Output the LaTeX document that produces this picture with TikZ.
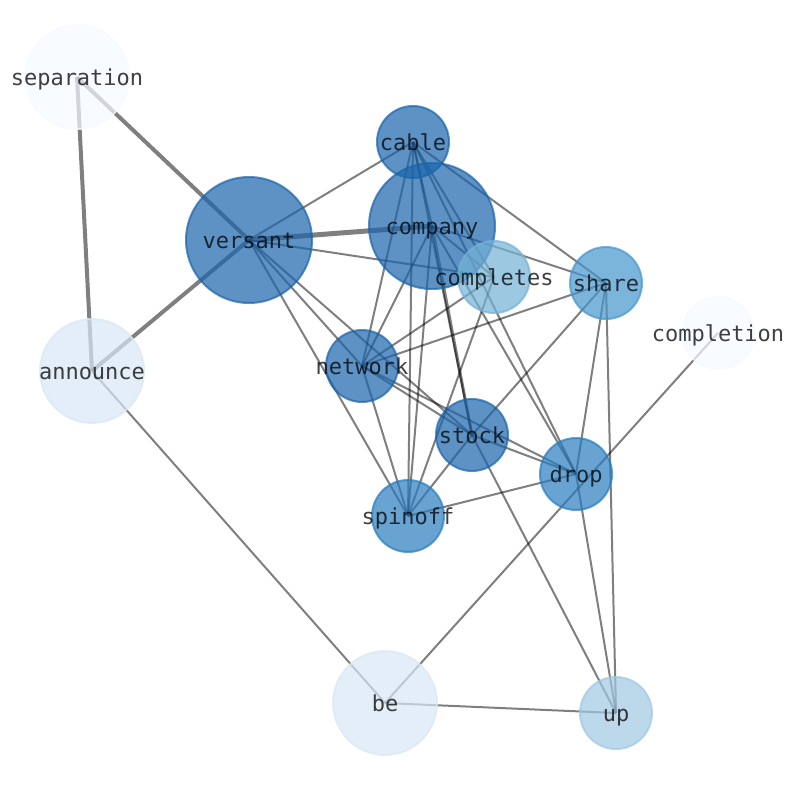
\documentclass[tikz,border=0pt]{standalone}
\usepackage{fontspec}
\setmonofont{DejaVu Sans Mono}
\usetikzlibrary{backgrounds}
\definecolor{tone9}{HTML}{1A64AB}
\definecolor{tone7}{HTML}{287CBF}
\definecolor{tone6}{HTML}{4595CD}
\definecolor{tone5}{HTML}{73B1D6}
\definecolor{tone4}{HTML}{A0C7E3}
\definecolor{tone2}{HTML}{D9E7F5}
\definecolor{tone0}{HTML}{F5F9FF}
\tikzset{
  word/.style={circle, inner sep=0pt, line width=2pt, draw=#1, fill=#1,
    opacity=0.7, text opacity=0.75, text=black,
    font=\ttfamily\fontsize{22}{26}\selectfont, text height=19pt, text depth=3pt},
  big/.style={minimum size=126pt},
  mid/.style={minimum size=104pt},
  small/.style={minimum size=72pt},
  link/.style={draw=black, draw opacity=0.5, line width=2pt},
  heavy/.style={link, line width=4pt},
}
\begin{document}
\begin{tikzpicture}[x=1pt,y=-1pt]
      \useasboundingbox (0,0) rectangle (794,790);
      \path
        (77,77) node[word=tone0, mid] (separation){\makebox[0pt]{separation}}
        (92,371) node[word=tone2, mid] (announce){\makebox[0pt]{announce}}
        (385,703) node[word=tone2, mid] (be){\makebox[0pt]{be}}
        (718,333) node[word=tone0, small] (completion){\makebox[0pt]{completion}}
        (616,713) node[word=tone4, small] (up){\makebox[0pt]{up}}
        (249,240) node[word=tone9, big] (versant){\makebox[0pt]{versant}}
        (413,142) node[word=tone9, small] (cable){\makebox[0pt]{cable}}
        (432,226) node[word=tone9, big] (company){\makebox[0pt]{company}}
        (494,277) node[word=tone5, small] (completes){\makebox[0pt]{completes}}
        (606,283) node[word=tone6, small] (share){\makebox[0pt]{share}}
        (362,366) node[word=tone9, small] (network){\makebox[0pt]{network}}
        (472,435) node[word=tone9, small] (stock){\makebox[0pt]{stock}}
        (576,474) node[word=tone7, small] (drop){\makebox[0pt]{drop}}
        (408,516) node[word=tone7, small] (spinoff){\makebox[0pt]{spinoff}};
      \begin{scope}[on background layer]
        \draw[heavy] (separation.center) to (versant.center);
        \draw[heavy] (separation.center) to (announce.center);
        \draw[heavy] (announce.center) to (versant.center);
        \draw[heavy, line width=5pt] (versant.center) to (company.center);
        \draw[link, line width=3pt] (company.center) to (stock.center);
        \draw[link] (announce.center) to (be.center);
        \draw[link] (versant.center) to (cable.center);
        \draw[link] (versant.center) to (completes.center);
        \draw[link] (versant.center) to (network.center);
        \draw[link] (versant.center) to (stock.center);
        \draw[link] (versant.center) to (spinoff.center);
        \draw[link] (cable.center) to (company.center);
        \draw[link] (cable.center) to (completes.center);
        \draw[link] (cable.center) to (share.center);
        \draw[link] (cable.center) to (network.center);
        \draw[link] (cable.center) to (spinoff.center);
        \draw[link] (cable.center) to (stock.center);
        \draw[link] (cable.center) to (drop.center);
        \draw[link] (company.center) to (network.center);
        \draw[link] (company.center) to (spinoff.center);
        \draw[link] (company.center) to (drop.center);
        \draw[link] (company.center) to (share.center);
        \draw[link] (company.center) to (completes.center);
        \draw[link] (completes.center) to (network.center);
        \draw[link] (completes.center) to (spinoff.center);
        \draw[link] (share.center) to (network.center);
        \draw[link] (share.center) to (stock.center);
        \draw[link] (share.center) to (drop.center);
        \draw[link] (share.center) to (up.center);
        \draw[link] (network.center) to (stock.center);
        \draw[link] (network.center) to (drop.center);
        \draw[link] (network.center) to (spinoff.center);
        \draw[link] (stock.center) to (drop.center);
        \draw[link] (stock.center) to (spinoff.center);
        \draw[link] (stock.center) to (up.center);
        \draw[link] (drop.center) to (spinoff.center);
        \draw[link] (drop.center) to (up.center);
        \draw[link] (be.center) to (completion.center);
        \draw[link] (be.center) to (up.center);
      \end{scope}
    \end{tikzpicture}
\end{document}
